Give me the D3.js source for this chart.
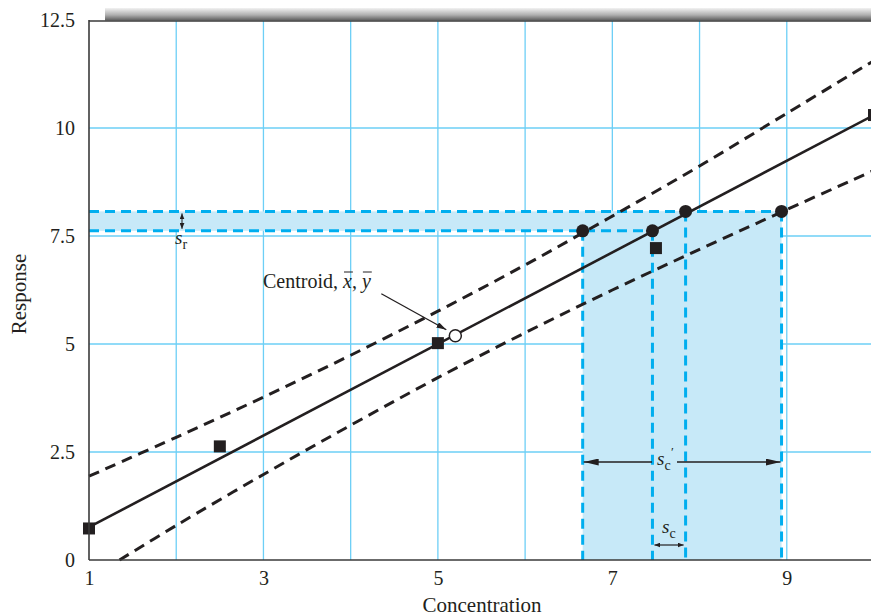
<!DOCTYPE html>
<html>
<head>
<meta charset="utf-8">
<script src="https://cdn.jsdelivr.net/npm/d3@7"></script>
<style>
  body { margin: 0; background: #fff; }
  svg { display: block; }
  text { font-family: "Liberation Serif", "DejaVu Serif", serif; fill: #231f20; }
</style>
</head>
<body>
<div class="d3"></div>
<script>
// calibration standards
const conc = [1, 2.5, 5, 7.5, 10];
const resp = [0.73, 2.63, 5.02, 7.22, 10.3];
// fitted line, read at both ends
const fitX = [1, 10];
const fitY = [0.76, 10.3];
// confidence limits
const upperX = [1, 2, 3, 4, 5, 6, 7, 8, 9, 10];
const upperY = [1.94, 2.84, 3.77, 4.74, 5.76, 6.83, 7.96, 9.12, 10.34, 11.56];
const lowerX = [1.35, 2, 3, 4, 5, 6, 7, 8, 9, 10];
const lowerY = [0, 0.80, 1.98, 3.12, 4.22, 5.26, 6.25, 7.19, 8.11, 9.02];
const centroid = [5.2, 5.19];
// the four dots where sr band meets the lines
const calX = [6.66, 7.46, 7.84, 8.94];
const calY = [7.62, 7.62, 8.07, 8.07];
const xTicks = [1, 3, 5, 7, 9];
const yTicks = [0, 2.5, 5, 7.5, 10, 12.5];
const xGrid = [2, 3, 4, 5, 6, 7, 8, 9];
const yGrid = [2.5, 5, 7.5, 10];

function main() {
    const width = 871, height = 616;
    const left = 89, right = 874, top = 20, bottom = 560;
    const ink = "#231f20", cyan = "#00aeef", grid = "#6dcff6", fillBlue = "#c7e9f8";

    const svg = d3.select(".d3").append("svg")
        .attr("width", width).attr("height", height);

    const x = d3.scaleLinear().domain([1, 10]).range([left, right]);
    const y = d3.scaleLinear().domain([0, 12.5]).range([bottom, top]);

    const defs = svg.append("defs");
    const grad = defs.append("linearGradient").attr("id", "bar")
        .attr("x1", 0).attr("y1", 0).attr("x2", 0).attr("y2", 1);
    grad.append("stop").attr("offset", 0).attr("stop-color", "#f2f2f2");
    grad.append("stop").attr("offset", 0.55).attr("stop-color", "#b0b0b0");
    grad.append("stop").attr("offset", 1).attr("stop-color", "#5c5c5c");

    function head(id, len, half) {
        defs.append("marker").attr("id", id)
            .attr("markerUnits", "userSpaceOnUse")
            .attr("viewBox", `0 ${-half} ${len} ${half * 2}`)
            .attr("refX", len).attr("refY", 0)
            .attr("markerWidth", len).attr("markerHeight", half * 2)
            .attr("orient", "auto-start-reverse")
            .append("path").attr("d", `M0,${-half}L${len},0L0,${half}Z`).attr("fill", ink);
    }
    head("big", 15, 3.5);
    head("mid", 10, 3);
    head("small", 6, 2.5);

    // gray bar above the frame
    svg.append("rect").attr("x", 105).attr("y", 8).attr("width", width - 105).attr("height", 12.5)
        .attr("fill", "url(#bar)");

    // grid
    svg.append("g").selectAll("line").data(xGrid).join("line")
        .attr("x1", d => x(d)).attr("x2", d => x(d)).attr("y1", top).attr("y2", bottom)
        .attr("stroke", grid).attr("stroke-width", 1.3);
    svg.append("g").selectAll("line").data(yGrid).join("line")
        .attr("x1", left).attr("x2", right).attr("y1", d => y(d)).attr("y2", d => y(d))
        .attr("stroke", grid).attr("stroke-width", 1.3);

    // shaded sr band and calibration region
    svg.append("rect").attr("x", x(1)).attr("y", y(calY[2]))
        .attr("width", x(calX[3]) - x(1)).attr("height", y(calY[0]) - y(calY[2]))
        .attr("fill", fillBlue);
    svg.append("rect").attr("x", x(calX[0])).attr("y", y(calY[2]))
        .attr("width", x(calX[3]) - x(calX[0])).attr("height", y(0) - y(calY[2]))
        .attr("fill", fillBlue);

    // blue dashed construction lines
    const blue = svg.append("g").attr("stroke", cyan).attr("stroke-width", 3)
        .attr("stroke-dasharray", "10,6").attr("fill", "none");
    blue.append("line").attr("x1", x(1)).attr("x2", x(calX[1]))
        .attr("y1", y(calY[0])).attr("y2", y(calY[0]));
    blue.append("line").attr("x1", x(1)).attr("x2", x(calX[3]))
        .attr("y1", y(calY[2])).attr("y2", y(calY[2]));
    blue.selectAll(".v").data(calX.map((d, i) => [d, calY[i]])).join("line")
        .attr("x1", d => x(d[0])).attr("x2", d => x(d[0]))
        .attr("y1", d => y(d[1])).attr("y2", y(0));

    // lines
    const line = d3.line().x(d => x(d[0])).y(d => y(d[1]));
    const curve = d3.line().x(d => x(d[0])).y(d => y(d[1])).curve(d3.curveCatmullRom);
    svg.append("path").attr("d", curve(upperX.map((d, i) => [d, upperY[i]])))
        .attr("fill", "none").attr("stroke", ink).attr("stroke-width", 3).attr("stroke-dasharray", "11,7");
    svg.append("path").attr("d", curve(lowerX.map((d, i) => [d, lowerY[i]])))
        .attr("fill", "none").attr("stroke", ink).attr("stroke-width", 3).attr("stroke-dasharray", "11,7");
    svg.append("path").attr("d", line(fitX.map((d, i) => [d, fitY[i]])))
        .attr("fill", "none").attr("stroke", ink).attr("stroke-width", 2.6);

    // standards
    svg.append("g").selectAll("rect").data(conc.map((d, i) => [d, resp[i]])).join("rect")
        .attr("x", d => x(d[0]) - 6).attr("y", d => y(d[1]) - 6)
        .attr("width", 12).attr("height", 12).attr("fill", ink);

    // dots
    svg.append("g").selectAll("circle").data(calX.map((d, i) => [d, calY[i]])).join("circle")
        .attr("cx", d => x(d[0])).attr("cy", d => y(d[1])).attr("r", 6.5).attr("fill", ink);

    // centroid
    const cx = x(centroid[0]), cy = y(centroid[1]);
    svg.append("circle").attr("cx", cx).attr("cy", cy).attr("r", 6)
        .attr("fill", "#fff").attr("stroke", ink).attr("stroke-width", 1.5);
    svg.append("line").attr("x1", cx - 74).attr("y1", cy - 42).attr("x2", cx - 9).attr("y2", cy - 6)
        .attr("stroke", ink).attr("stroke-width", 1.3).attr("marker-end", "url(#mid)");

    const lab = svg.append("g").attr("font-size", 20);
    let px = 263;
    const parts = [["Centroid, ", false], ["x", true], [", ", false], ["y", true]];
    parts.forEach(p => {
        const t = lab.append("text").attr("x", px).attr("y", 288).text(p[0])
            .attr("font-style", p[1] ? "italic" : null).attr("xml:space", "preserve");
        const w = t.node().getComputedTextLength();
        if (p[1]) {
            lab.append("line").attr("x1", px + 1).attr("x2", px + w + 1)
                .attr("y1", 272).attr("y2", 272).attr("stroke", ink).attr("stroke-width", 1);
        }
        px += w;
    });

    // sr arrow and label
    const srX = 182;
    svg.append("line").attr("x1", srX).attr("x2", srX)
        .attr("y1", y(calY[2]) + 2).attr("y2", y(calY[0]) - 2)
        .attr("stroke", ink).attr("stroke-width", 1)
        .attr("marker-start", "url(#small)").attr("marker-end", "url(#small)");
    const srT = svg.append("text").attr("x", 175).attr("y", 244).attr("font-size", 19);
    srT.append("tspan").attr("font-style", "italic").text("s");
    srT.append("tspan").attr("font-size", 14).attr("dy", 5).text("r");

    // s'c arrow and label
    const scY = 462;
    svg.append("line").attr("x1", 652).attr("x2", x(calX[0]) + 1).attr("y1", scY).attr("y2", scY)
        .attr("stroke", ink).attr("stroke-width", 1.3).attr("marker-end", "url(#big)");
    svg.append("line").attr("x1", 677).attr("x2", x(calX[3]) - 1).attr("y1", scY).attr("y2", scY)
        .attr("stroke", ink).attr("stroke-width", 1.3).attr("marker-end", "url(#big)");
    const sc2 = svg.append("text").attr("x", 657).attr("y", 465).attr("font-size", 19);
    sc2.append("tspan").attr("font-style", "italic").text("s");
    sc2.append("tspan").attr("font-size", 14).attr("dy", 5).text("c");
    svg.append("text").attr("x", 671).attr("y", 456).attr("font-size", 13).text("′");

    // sc arrow and label
    svg.append("line").attr("x1", x(calX[1]) + 2).attr("x2", x(calX[2]) - 2).attr("y1", 545).attr("y2", 545)
        .attr("stroke", ink).attr("stroke-width", 1.2)
        .attr("marker-start", "url(#small)").attr("marker-end", "url(#small)");
    const sc = svg.append("text").attr("x", 662).attr("y", 533).attr("font-size", 19);
    sc.append("tspan").attr("font-style", "italic").text("s");
    sc.append("tspan").attr("font-size", 14).attr("dy", 5).text("c");

    // frame
    const frame = svg.append("g").attr("stroke", "#3a3a3a").attr("stroke-width", 1.6);
    frame.append("line").attr("x1", left).attr("x2", left).attr("y1", top).attr("y2", bottom);
    frame.append("line").attr("x1", left).attr("x2", width).attr("y1", bottom).attr("y2", bottom);
    frame.append("line").attr("x1", left).attr("x2", width).attr("y1", top + 1).attr("y2", top + 1);

    // axes (labels only)
    const yAxis = svg.append("g").attr("transform", `translate(${left},0)`)
        .call(d3.axisLeft(y).tickValues(yTicks).tickSize(0).tickPadding(14).tickFormat(d => d));
    const xAxis = svg.append("g").attr("transform", `translate(0,${bottom})`)
        .call(d3.axisBottom(x).tickValues(xTicks).tickSize(0).tickPadding(11).tickFormat(d => d));
    [xAxis, yAxis].forEach(a => {
        a.select(".domain").remove();
        a.selectAll("text").attr("font-size", 20).attr("fill", ink)
            .attr("font-family", "Liberation Serif, serif");
    });

    svg.append("text").attr("x", 482).attr("y", 612).attr("text-anchor", "middle")
        .attr("font-size", 21).text("Concentration");
    svg.append("text").attr("transform", "translate(26,294) rotate(-90)").attr("text-anchor", "middle")
        .attr("font-size", 21).text("Response");
}
main();
</script>
</body>
</html>
